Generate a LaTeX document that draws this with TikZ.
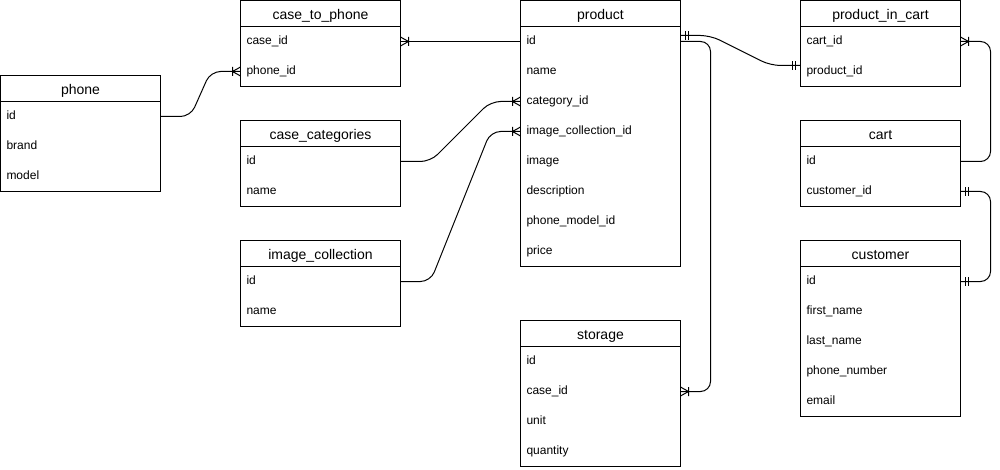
\documentclass[tikz,border=0pt]{standalone}
\usepackage{fontspec}
\setmainfont{Liberation Sans}
\usetikzlibrary{calc,decorations.markings}

\tikzset{
  tablehead/.style={draw, line width=1pt, anchor=north west, outer sep=0pt, inner sep=0pt,
    minimum width=160pt, minimum height=26pt, text height=12pt, text depth=0pt,
    font=\fontsize{14}{16}\selectfont},
  tablerow/.style={anchor=north west, outer sep=0pt, inner xsep=6pt, inner ysep=0pt,
    text width=148pt, align=left, minimum height=30pt, text height=9pt, text depth=3pt,
    font=\fontsize{12}{14}\selectfont},
  rel/.style={line width=1pt, rounded corners=10pt},
  many at end/.style={postaction={decorate, decoration={markings,
    mark=at position 1 with {\draw[line width=1pt, sharp corners]
      (-8pt,0) -- (0,4.5pt) (-8pt,0) -- (0,-4.5pt) (-8pt,-4.5pt) -- (-8pt,4.5pt);}}}},
  one at end/.style={postaction={decorate, decoration={markings,
    mark=at position 1 with {\draw[line width=1pt, sharp corners]
      (-5pt,-4.5pt) -- (-5pt,4.5pt) (-8pt,-4.5pt) -- (-8pt,4.5pt);}}}},
  one at start/.style={postaction={decorate, decoration={markings,
    mark=at position 0 with {\draw[line width=1pt, sharp corners]
      (5pt,-4.5pt) -- (5pt,4.5pt) (8pt,-4.5pt) -- (8pt,4.5pt);}}}}
}

% name, top left corner, title, number of rows, rows
\newcommand{\ertable}[5]{%
  \node[tablehead] (#1) at (#2) {#3};
  \foreach \field [count=\i] in {#5}
    \node[tablerow] (#1-\i) at ([yshift={-30pt*(\i-1)}]#1.south west) {\field};
  \draw[line width=1pt] (#1.north west) rectangle (#1-#4.south east);
}

\begin{document}
\begin{tikzpicture}[x=1pt, y=-1pt]
    \useasboundingbox (-0.5,-0.5) rectangle (999.5,469.5);

    % Tables
    \ertable{phone}{0,75}{phone}{3}{id, brand, model}
    \ertable{casephone}{240,0}{case\_to\_phone}{2}{case\_id, phone\_id}
    \ertable{casecat}{240,120}{case\_categories}{2}{id, name}
    \ertable{imgcol}{240,240}{image\_collection}{2}{id, name}
    \ertable{product}{520,0}{product}{8}{id, name, category\_id, image\_collection\_id,
        image, description, phone\_model\_id, price}
    \ertable{storage}{520,320}{storage}{4}{id, case\_id, unit, quantity}
    \ertable{prodcart}{800,0}{product\_in\_cart}{2}{cart\_id, product\_id}
    \ertable{cart}{800,120}{cart}{2}{id, customer\_id}
    \ertable{customer}{800,240}{customer}{5}{id, first\_name, last\_name, phone\_number, email}

    % Relations
    \draw[rel, many at end] (phone-1.east) -- ++(30,0)
        -- ([xshift=-30pt]casephone-2.west) -- (casephone-2.west);
    \draw[rel, many at end] (product-1.west) -- (casephone-1.east);
    \draw[rel, many at end] (casecat-1.east) -- ++(30,0)
        -- ([xshift=-30pt]product-3.west) -- (product-3.west);
    \draw[rel, many at end] (imgcol-1.east) -- ++(30,0)
        -- ([xshift=-30pt]product-4.west) -- (product-4.west);
    \draw[rel, one at start, one at end] ([yshift=6pt]product-1.east) -- ++(30,0)
        -- ([xshift=-30pt,yshift=6pt]prodcart-2.west) -- ([yshift=6pt]prodcart-2.west);
    \draw[rel, many at end] (product-1.east) -- ++(30,0) |- (storage-2.east);
    \draw[rel, many at end] (cart-1.east) -- ++(30,0) |- (prodcart-1.east);
    \draw[rel, one at start, one at end] (cart-2.east) -- ++(30,0) |- (customer-1.east);
\end{tikzpicture}
\end{document}
